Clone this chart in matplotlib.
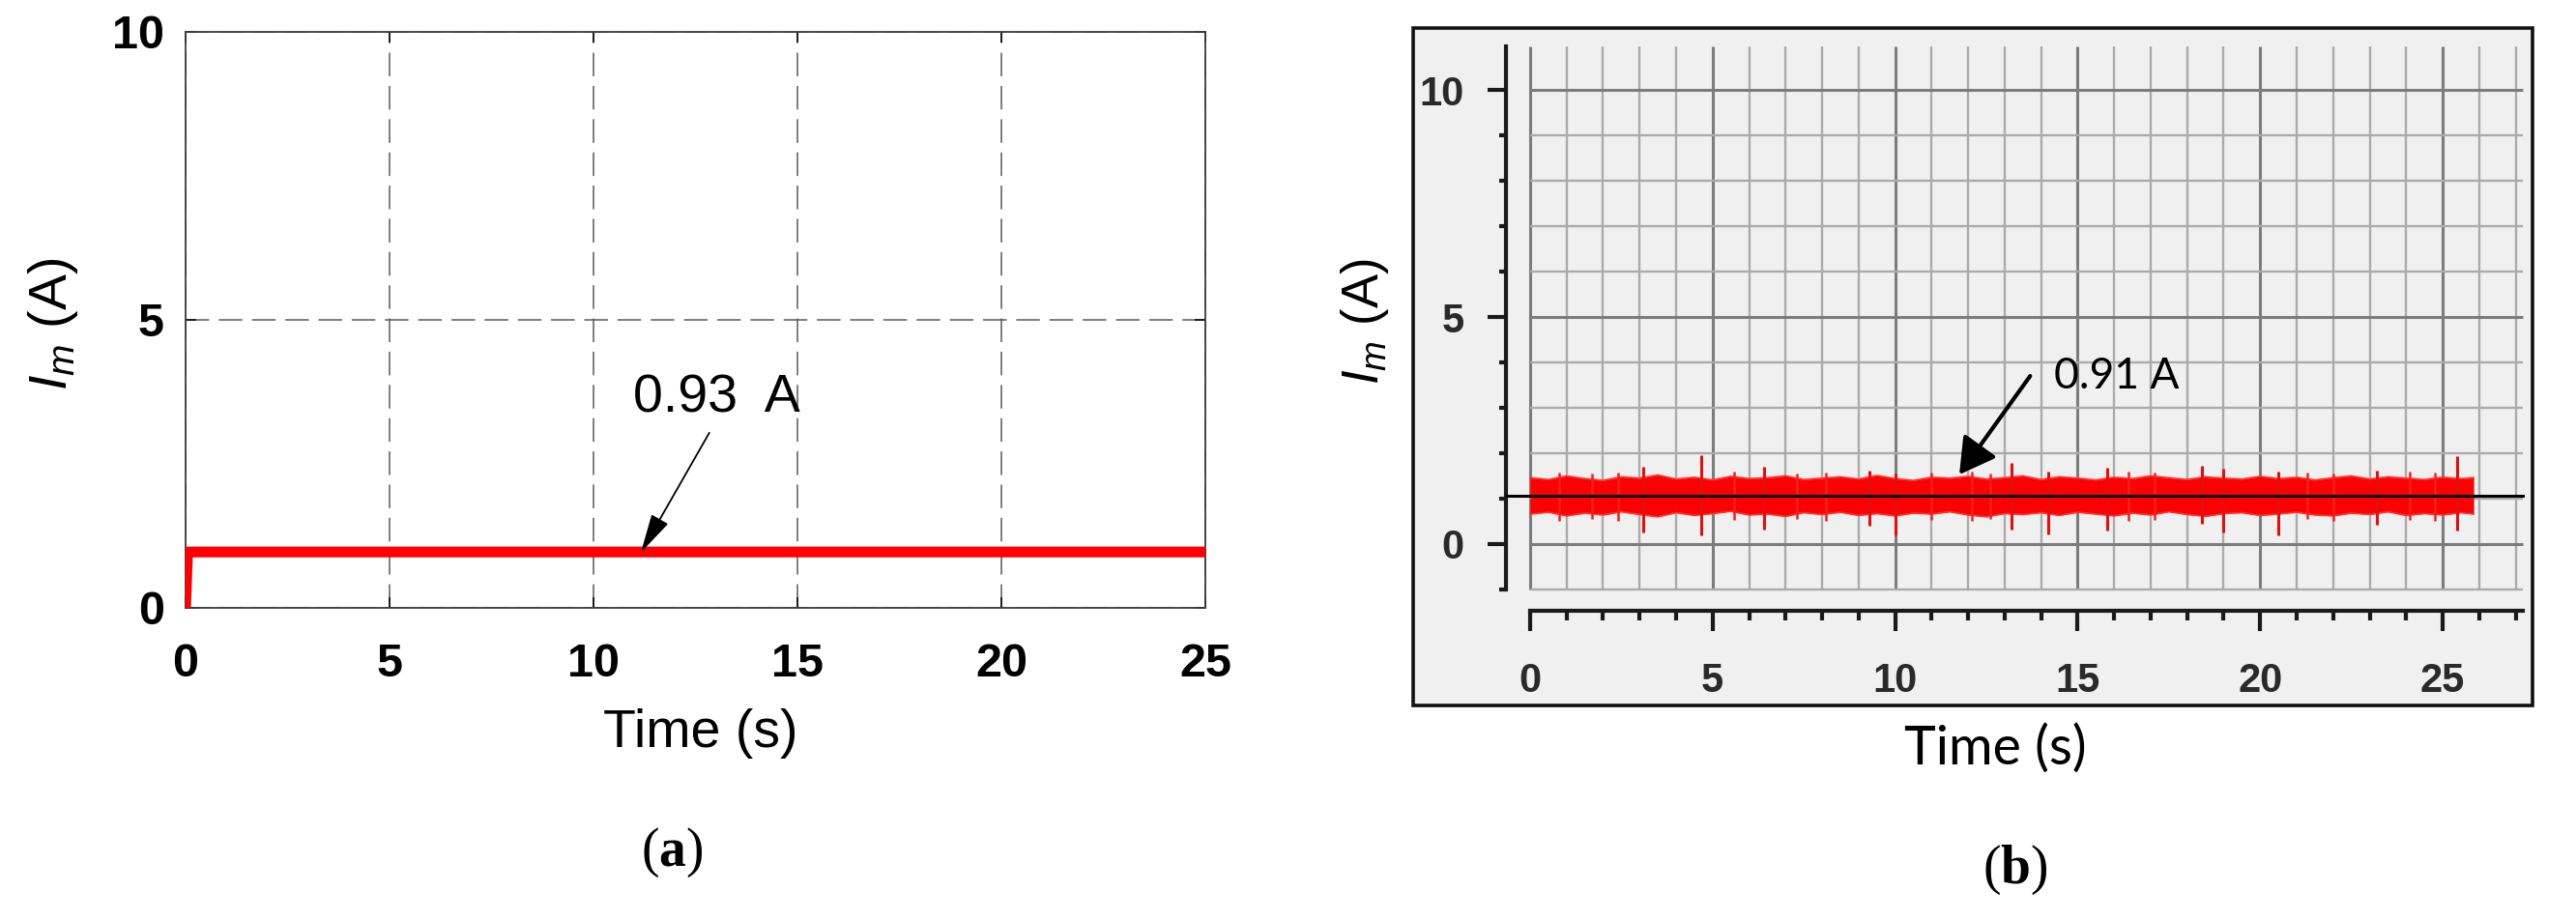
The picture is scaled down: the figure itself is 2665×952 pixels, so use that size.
import numpy as np
import matplotlib.pyplot as plt
from matplotlib.patches import Rectangle

plt.rcParams['font.family'] = ['Liberation Sans', 'DejaVu Sans']
plt.rcParams['mathtext.fontset'] = 'custom'
plt.rcParams['mathtext.rm'] = 'Liberation Sans'
plt.rcParams['mathtext.it'] = 'Liberation Sans:italic'
plt.rcParams['mathtext.bf'] = 'Liberation Serif:bold'

# (a) simulated motor current
a_time = [0.0, 0.05, 25.0]
a_current = [0.0, 0.97, 0.97]
a_label = '0.93  A'
a_xticks = [0, 5, 10, 15, 20, 25]
a_yticks = [0, 5, 10]

# (b) measured motor current, envelope of the noisy trace every 0.5 s
b_time = [0.0, 0.5, 1.0, 1.5, 2.0, 2.5, 3.0, 3.5, 4.0, 4.5,
          5.0, 5.5, 6.0, 6.5, 7.0, 7.5, 8.0, 8.5, 9.0, 9.5,
          10.0, 10.5, 11.0, 11.5, 12.0, 12.5, 13.0, 13.5, 14.0, 14.5,
          15.0, 15.5, 16.0, 16.5, 17.0, 17.5, 18.0, 18.5, 19.0, 19.5,
          20.0, 20.5, 21.0, 21.5, 22.0, 22.5, 23.0, 23.5, 24.0, 24.5,
          25.0, 25.5, 25.85]
b_upper = [1.46, 1.42, 1.50, 1.44, 1.40, 1.48, 1.45, 1.52, 1.43, 1.47,
           1.41, 1.49, 1.44, 1.46, 1.50, 1.42, 1.45, 1.48, 1.43, 1.51,
           1.44, 1.40, 1.47, 1.45, 1.49, 1.43, 1.46, 1.50, 1.42, 1.48,
           1.45, 1.41, 1.47, 1.44, 1.50, 1.46, 1.42, 1.48, 1.45, 1.43,
           1.49, 1.44, 1.47, 1.41, 1.46, 1.50, 1.43, 1.48, 1.45, 1.42,
           1.47, 1.44, 1.46]
b_lower = [0.66, 0.70, 0.62, 0.68, 0.64, 0.71, 0.65, 0.60, 0.69, 0.63,
           0.67, 0.72, 0.64, 0.66, 0.61, 0.69, 0.65, 0.70, 0.63, 0.67,
           0.62, 0.68, 0.66, 0.71, 0.64, 0.60, 0.67, 0.65, 0.69, 0.63,
           0.70, 0.66, 0.62, 0.68, 0.64, 0.71, 0.65, 0.61, 0.67, 0.69,
           0.63, 0.66, 0.70, 0.64, 0.62, 0.68, 0.65, 0.71, 0.63, 0.67,
           0.64, 0.69, 0.66]
# large spikes standing out of the band
b_spike_time = [3.1, 4.7, 6.4, 9.3, 10.0, 13.2, 14.2, 15.8, 18.4, 19.0, 20.5, 23.2, 25.4]
b_spike_hi = [1.70, 1.96, 1.70, 1.62, 1.55, 1.79, 1.60, 1.68, 1.72, 1.65, 1.60, 1.62, 1.94]
b_spike_lo = [0.25, 0.19, 0.32, 0.40, 0.20, 0.32, 0.21, 0.30, 0.45, 0.25, 0.20, 0.42, 0.30]
# small ragged spikes on the band edges
b_rag_time = [0.8, 1.7, 2.4, 5.6, 7.3, 8.1, 11.0, 12.1, 12.6, 16.4, 17.1, 21.3, 22.0, 24.1, 24.8]
b_rag_hi = [1.58, 1.55, 1.57, 1.60, 1.56, 1.58, 1.57, 1.59, 1.55, 1.60, 1.57, 1.58, 1.56, 1.59, 1.57]
b_rag_lo = [0.52, 0.55, 0.50, 0.53, 0.56, 0.51, 0.54, 0.52, 0.55, 0.50, 0.53, 0.55, 0.52, 0.54, 0.51]
b_mean = 1.06
b_label = '0.91 A'
b_xticks = [0, 5, 10, 15, 20, 25]
b_yticks = [0, 5, 10]

W, H = 2665, 952
fig = plt.figure(figsize=(W / 100, H / 100), dpi=100)

def fx(px):
    return px / W

def fy(py):
    return 1 - py / H

# ---------- panel (a) ----------
ax1 = fig.add_axes([fx(192), fy(629), fx(1247 - 192), (629 - 33) / H])
ax1.plot(a_time, a_current, color='#ff0000', lw=8, solid_capstyle='butt', zorder=3)
ax1.set_xlim(0, 25)
ax1.set_ylim(0, 10)
ax1.set_xticks(a_xticks, [str(t) for t in a_xticks], fontweight='bold')
ax1.set_yticks(a_yticks, [str(t) for t in a_yticks], fontweight='bold')
ax1.tick_params(axis='x', direction='in', length=8, width=1.1, top=True, labelsize=35, pad=26)
ax1.tick_params(axis='y', direction='in', length=8, width=1.1, right=True, labelsize=35, pad=16)
ax1.grid(True, ls=(0, (16, 6.5)), color='#5a5a5a', lw=1.1)
for s in ax1.spines.values():
    s.set_color('#3a3a3a')
    s.set_linewidth(1.3)

ax1.text(10.97, 3.64, a_label, ha='left', va='center', fontsize=40)
ax1.annotate('', xy=(11.16, 0.96), xytext=(12.84, 3.04),
             arrowprops=dict(arrowstyle='-|>,head_length=0.9,head_width=0.22',
                             color='black', lw=1.3, mutation_scale=28,
                             shrinkA=0, shrinkB=0))

fig.text(fx(725), fy(759), 'Time (s)', ha='center', va='center', fontsize=40)
fig.text(fx(55), fy(335), r'$I_m$ (A)', ha='center', va='center', rotation=90, fontsize=40)
fig.text(fx(695), fy(882), r'($\mathbf{a}$)', ha='center', va='center',
         family='Liberation Serif', fontsize=40)

# ---------- panel (b) ----------
fig.add_artist(Rectangle((fx(1462), fy(730)), fx(2620 - 1462), (730 - 29) / H,
                         transform=fig.transFigure, facecolor='#f0f0f0',
                         edgecolor='#111111', lw=2.6, zorder=-5))

ax2 = fig.add_axes([fx(1558), fy(632), fx(2612 - 1558), (632 - 48) / H])
ax2.set_facecolor('#f0f0f0')
ax2.set_xlim(-0.66, 27.25)
ax2.set_ylim(-1.47, 10.96)

for x in range(0, 28):
    major = x % 5 == 0
    ax2.vlines(x, -1, 10.96, color='#7c7c7c' if major else '#ababab',
               lw=2.2 if major else 1.7, zorder=1)
for y in range(-1, 11):
    major = y % 5 == 0
    ax2.hlines(y, 0, 27.2, color='#7c7c7c' if major else '#ababab',
               lw=2.2 if major else 1.7, zorder=1)

ax2.fill_between(b_time, b_lower, b_upper, color='#ff0000', lw=0, zorder=2)
ax2.plot(b_time, b_upper, color='#ff3030', lw=1.2, zorder=2)
ax2.plot(b_time, b_lower, color='#ff3030', lw=1.2, zorder=2)
ax2.vlines(b_rag_time, b_rag_lo, b_rag_hi, color='#f02020', lw=1.8, zorder=2)
ax2.vlines(b_spike_time, b_spike_lo, b_spike_hi, color='#e01010', lw=2.2, zorder=2)
ax2.axhline(b_mean, color='black', lw=2.2, zorder=3)

ax2.spines['top'].set_visible(False)
ax2.spines['right'].set_visible(False)
ax2.spines['left'].set_bounds(-1, 10.96)
ax2.spines['bottom'].set_bounds(0, 27.2)
for s in ('left', 'bottom'):
    ax2.spines[s].set_linewidth(3)
    ax2.spines[s].set_color('#1a1a1a')

ax2.set_xticks(b_xticks, [str(t) for t in b_xticks], fontweight='bold')
ax2.set_xticks(range(0, 28), minor=True)
ax2.set_yticks(b_yticks, [str(t) for t in b_yticks], fontweight='bold')
ax2.set_yticks(range(-1, 11), minor=True)
ax2.tick_params(axis='x', which='major', direction='out', length=15, width=3,
                color='#1a1a1a', labelsize=30, labelcolor='#2a2a2a', pad=23)
ax2.tick_params(axis='x', which='minor', direction='out', length=7, width=3, color='#1a1a1a')
ax2.tick_params(axis='y', which='major', direction='out', length=14, width=3,
                color='#1a1a1a', labelsize=30, labelcolor='#2a2a2a', pad=17)
ax2.tick_params(axis='y', which='minor', direction='out', length=5, width=3, color='#1a1a1a')

ax2.annotate('', xy=(11.76, 1.53), xytext=(13.7, 3.7),
             arrowprops=dict(arrowstyle='-|>,head_length=0.7,head_width=0.4',
                             color='black', lw=3, mutation_scale=32,
                             shrinkA=0, shrinkB=0), zorder=4)
ax2.text(14.35, 3.7, b_label, ha='left', va='center', fontsize=32, family='Lato')

fig.text(fx(2064), fy(775), 'Time (s)', ha='center', va='center', fontsize=40, family='Lato')
fig.text(fx(1412), fy(333), r'$I_m$ (A)', ha='center', va='center', rotation=90, fontsize=38)
fig.text(fx(2085), fy(900), r'($\mathbf{b}$)', ha='center', va='center',
         family='Liberation Serif', fontsize=40)

fig.savefig('out.png', dpi=100)
plt.close()
